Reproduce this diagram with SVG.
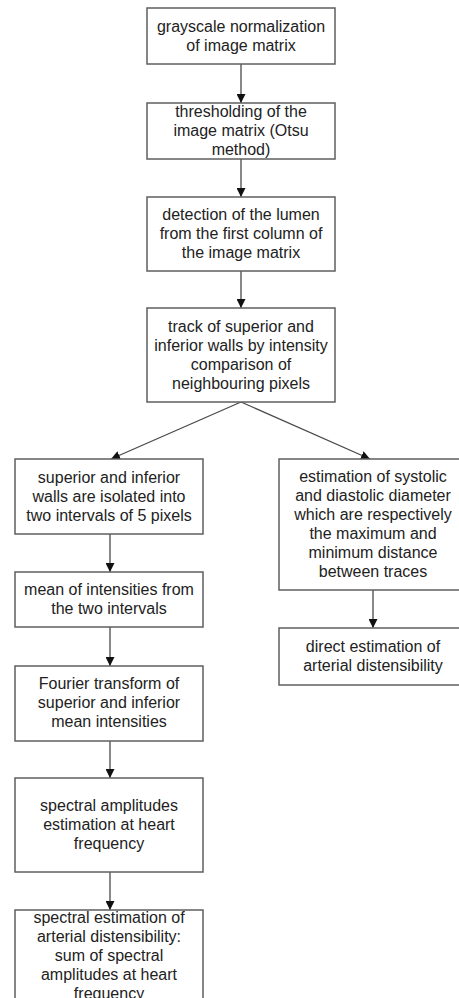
<svg xmlns="http://www.w3.org/2000/svg" width="459" height="998" viewBox="0 0 459 998">
<style>
.box{fill:#fff;stroke:#5f5f5f;stroke-width:1.5}
.t{font-family:"Liberation Sans",Arial,sans-serif;font-size:16px;fill:#222;text-anchor:middle}
.c{stroke:#4a4a4a;stroke-width:1.3;fill:none;marker-end:url(#ah)}
</style>
<defs>
<marker id="ah" markerUnits="userSpaceOnUse" markerWidth="9" markerHeight="9" viewBox="0 0 10 10" refX="10" refY="5" orient="auto">
<path d="M0,0 L10,5 L0,10 z" fill="#111"/>
</marker>
</defs>
<rect width="459" height="998" fill="#fff"/>
<g id="connectors">
<line class="c" x1="241" y1="64" x2="241" y2="103"/>
<line class="c" x1="241" y1="159" x2="241" y2="197"/>
<line class="c" x1="241" y1="271" x2="241" y2="308"/>
<line class="c" x1="241" y1="402" x2="111" y2="459"/>
<line class="c" x1="241" y1="402" x2="370" y2="459"/>
<line class="c" x1="110" y1="534" x2="110" y2="572"/>
<line class="c" x1="110" y1="627" x2="110" y2="666"/>
<line class="c" x1="110" y1="741" x2="110" y2="778"/>
<line class="c" x1="110" y1="872" x2="110" y2="910"/>
<line class="c" x1="373" y1="590" x2="373" y2="628"/>
</g>
<g id="n1"><rect class="box" x="147" y="8" width="188" height="56"/>
<text class="t" x="241" y="32">grayscale normalization</text><text class="t" x="241" y="51">of image matrix</text></g>
<g id="n2"><rect class="box" x="147" y="103" width="188" height="56"/>
<text class="t" x="241" y="117">thresholding of the</text><text class="t" x="241" y="136">image matrix (Otsu</text><text class="t" x="241" y="155">method)</text></g>
<g id="n3"><rect class="box" x="147" y="197" width="188" height="74"/>
<text class="t" x="241" y="220">detection of the lumen</text><text class="t" x="241" y="239">from the first column of</text><text class="t" x="241" y="258">the image matrix</text></g>
<g id="n4"><rect class="box" x="147" y="308" width="188" height="94"/>
<text class="t" x="241" y="332">track of superior and</text><text class="t" x="241" y="351">inferior walls by intensity</text><text class="t" x="241" y="370">comparison of</text><text class="t" x="241" y="389">neighbouring pixels</text></g>
<g id="n5"><rect class="box" x="15" y="459" width="188" height="75"/>
<text class="t" x="109" y="483">superior and inferior</text><text class="t" x="109" y="502">walls are isolated into</text><text class="t" x="109" y="521">two intervals of 5 pixels</text></g>
<g id="n6"><rect class="box" x="15" y="572" width="188" height="55"/>
<text class="t" x="109" y="595">mean of intensities from</text><text class="t" x="109" y="614">the two intervals</text></g>
<g id="n7"><rect class="box" x="15" y="666" width="188" height="75"/>
<text class="t" x="109" y="689">Fourier transform of</text><text class="t" x="109" y="708">superior and inferior</text><text class="t" x="109" y="727">mean intensities</text></g>
<g id="n8"><rect class="box" x="15" y="778" width="188" height="94"/>
<text class="t" x="109" y="811">spectral amplitudes</text><text class="t" x="109" y="830">estimation at heart</text><text class="t" x="109" y="849">frequency</text></g>
<g id="n9"><rect class="box" x="15" y="910" width="188" height="94"/>
<text class="t" x="109" y="923">spectral estimation of</text><text class="t" x="109" y="942">arterial distensibility:</text><text class="t" x="109" y="961">sum of spectral</text><text class="t" x="109" y="980">amplitudes at heart</text><text class="t" x="109" y="999">frequency</text></g>
<g id="n10"><rect class="box" x="279" y="459" width="188" height="131"/>
<text class="t" x="373" y="482">estimation of systolic</text><text class="t" x="373" y="501">and diastolic diameter</text><text class="t" x="373" y="520">which are respectively</text><text class="t" x="373" y="539">the maximum and</text><text class="t" x="373" y="558">minimum distance</text><text class="t" x="373" y="577">between traces</text></g>
<g id="n11"><rect class="box" x="279" y="628" width="188" height="57"/>
<text class="t" x="373" y="652">direct estimation of</text><text class="t" x="373" y="671">arterial distensibility</text></g>
</svg>
